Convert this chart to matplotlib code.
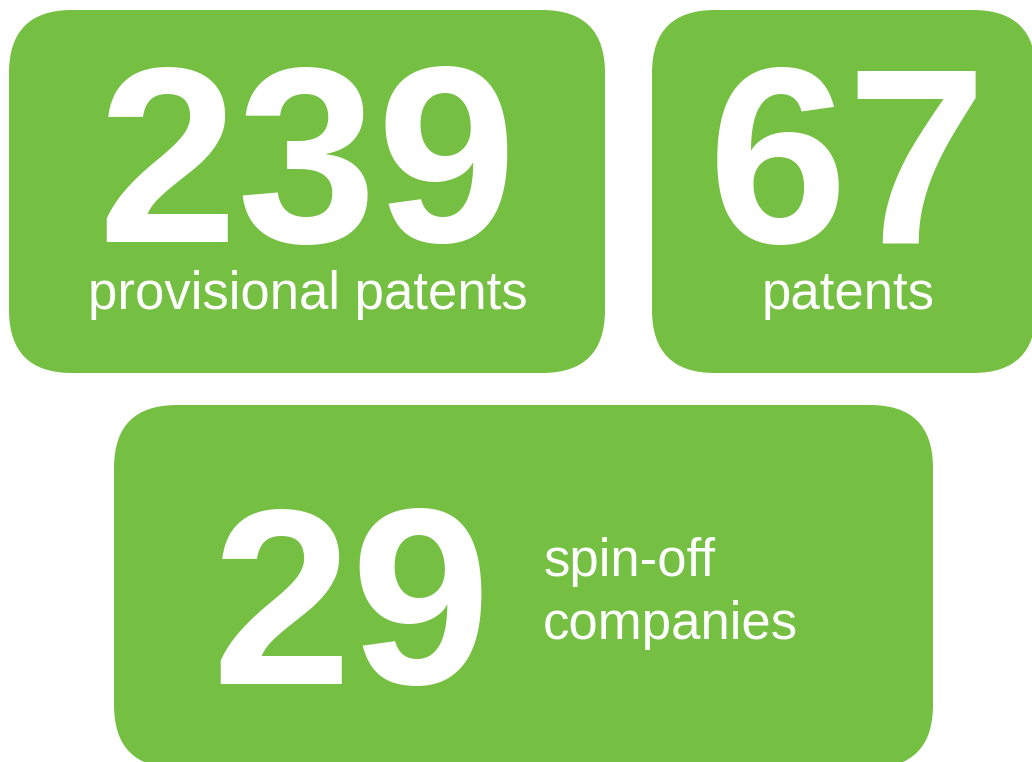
import matplotlib.pyplot as plt
from matplotlib.patches import FancyBboxPatch

W, H = 1032, 762
green = '#75bf43'

# data
numbers = ['239', '67', '29']
labels = ['provisional patents', 'patents', 'spin-off\ncompanies']

# box geometry in pixels (x0, y0, x1, y1)
boxes = [(9, 10, 605, 373), (652, 10, 1036, 373), (114, 405, 933, 768)]

fig = plt.figure(figsize=(W / 100, H / 100), dpi=100)
ax = fig.add_axes([0, 0, 1, 1])
ax.set_xlim(0, W)
ax.set_ylim(H, 0)
ax.axis('off')

for (x0, y0, x1, y1) in boxes:
    ax.add_patch(FancyBboxPatch((x0, y0), x1 - x0, y1 - y0,
                                boxstyle='round,pad=0,rounding_size=63',
                                facecolor=green, edgecolor='none'))

font = 'Liberation Sans'
big = 181
small = 38

# top two boxes: big number with label underneath
ax.text(307, 242, numbers[0], color='white', fontsize=big, fontweight='bold',
        family=font, ha='center', va='baseline')
ax.text(307.5, 309, labels[0], color='white', fontsize=small, family=font,
        ha='center', va='baseline')

ax.text(848, 243, numbers[1], color='white', fontsize=big, fontweight='bold',
        family=font, ha='center', va='baseline')
ax.text(848, 309, labels[1], color='white', fontsize=small, family=font,
        ha='center', va='baseline')

# bottom box: number with label on the right
ax.text(351, 684, numbers[2], color='white', fontsize=big, fontweight='bold',
        family=font, ha='center', va='baseline')
sub = labels[2].split('\n')
ax.text(543, 576, sub[0], color='white', fontsize=small, family=font,
        ha='left', va='baseline')
ax.text(543, 639, sub[1], color='white', fontsize=small, family=font,
        ha='left', va='baseline')

fig.savefig('out.png', dpi=100)
